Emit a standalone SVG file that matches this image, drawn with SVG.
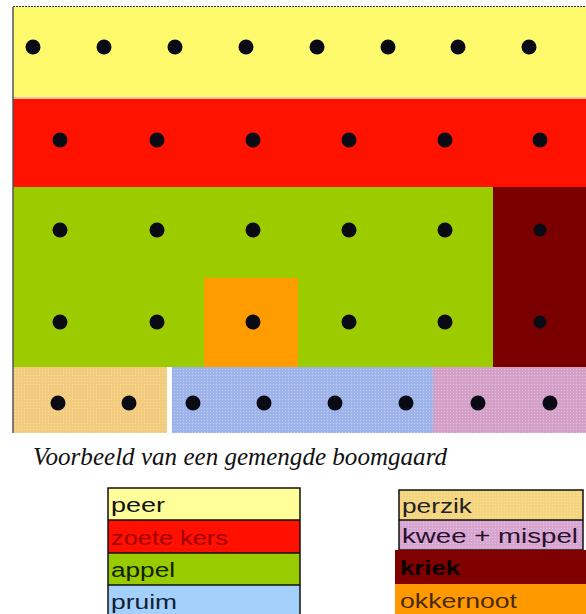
<svg xmlns="http://www.w3.org/2000/svg" width="586" height="614" viewBox="0 0 586 614">
<defs>
<style>
.dot{fill:#0a0a14}
.lt{font-family:"Liberation Sans",Arial,sans-serif;font-size:20px}
.cap{font-family:"Liberation Serif","Times New Roman",serif;font-style:italic;font-size:25px;fill:#111}
.lb{stroke:#111;stroke-width:1.5}
</style>
<pattern id="dotsW" width="3" height="3" patternUnits="userSpaceOnUse">
<rect x="0" y="0" width="1" height="1" fill="#ffffff" fill-opacity="0.35"/>
</pattern>
</defs>
<rect width="586" height="614" fill="#ffffff"/>

<g id="plot">
<rect id="peer" x="13" y="7" width="573" height="90" fill="#fdfb6c"/>
<rect x="13" y="97" width="573" height="2" fill="#f4c0a8"/>
<rect id="zoete-kers" x="13" y="99" width="573" height="88" fill="#ff1200"/>
<rect id="appel" x="13" y="187" width="480" height="180" fill="#9ccc00"/>
<rect id="kriek" x="493" y="187" width="93" height="180" fill="#7a0000"/>
<rect id="okkernoot" x="204" y="278" width="94" height="89" fill="#ff9c00"/>
<rect id="perzik" x="13" y="367" width="154" height="66" fill="#f2cb7c"/>
<rect x="13" y="367" width="154" height="66" fill="url(#dotsW)"/>
<rect id="pruim" x="172" y="367" width="261" height="66" fill="#9db3ea"/>
<rect x="172" y="367" width="261" height="66" fill="url(#dotsW)"/>
<rect id="kwee-mispel" x="433" y="367" width="153" height="66" fill="#d4a0c8"/>
<rect x="433" y="367" width="153" height="66" fill="url(#dotsW)"/>
<line x1="13" y1="6.5" x2="586" y2="6.5" stroke="#333" stroke-width="1.2" stroke-dasharray="2 1"/>
<line x1="13" y1="7" x2="13" y2="433" stroke="#555" stroke-width="1.5"/>
</g>

<g id="trees">
<g id="row1">
<circle class="dot" cx="33" cy="47" r="7.5"/><circle class="dot" cx="104" cy="47" r="7.5"/><circle class="dot" cx="175" cy="47" r="7.5"/><circle class="dot" cx="246" cy="47" r="7.5"/><circle class="dot" cx="317" cy="47" r="7.5"/><circle class="dot" cx="388" cy="47" r="7.5"/><circle class="dot" cx="458" cy="47" r="7.5"/><circle class="dot" cx="529" cy="47" r="7.5"/>
</g>
<g id="row2">
<circle class="dot" cx="60" cy="140" r="7.5"/><circle class="dot" cx="157" cy="140" r="7.5"/><circle class="dot" cx="253" cy="140" r="7.5"/><circle class="dot" cx="349" cy="140" r="7.5"/><circle class="dot" cx="445" cy="140" r="7.5"/><circle class="dot" cx="540" cy="140" r="7.5"/>
</g>
<g id="row3">
<circle class="dot" cx="60" cy="230" r="7.5"/><circle class="dot" cx="157" cy="230" r="7.5"/><circle class="dot" cx="253" cy="230" r="7.5"/><circle class="dot" cx="349" cy="230" r="7.5"/><circle class="dot" cx="445" cy="230" r="7.5"/><circle class="dot" cx="540" cy="230" r="6.5"/>
</g>
<g id="row4">
<circle class="dot" cx="60" cy="322" r="7.5"/><circle class="dot" cx="157" cy="322" r="7.5"/><circle class="dot" cx="253" cy="322" r="7.5"/><circle class="dot" cx="349" cy="322" r="7.5"/><circle class="dot" cx="445" cy="322" r="7.5"/><circle class="dot" cx="540" cy="322" r="6.5"/>
</g>
<g id="row5">
<circle class="dot" cx="58" cy="403" r="7.5"/><circle class="dot" cx="129" cy="403" r="7.5"/><circle class="dot" cx="193" cy="403" r="7.5"/><circle class="dot" cx="264" cy="403" r="7.5"/><circle class="dot" cx="335" cy="403" r="7.5"/><circle class="dot" cx="406" cy="403" r="7.5"/><circle class="dot" cx="478" cy="403" r="7.5"/><circle class="dot" cx="550" cy="403" r="7.5"/>
</g>
</g>

<text id="caption" class="cap" x="33" y="465" textLength="414" lengthAdjust="spacingAndGlyphs">Voorbeeld van een gemengde boomgaard</text>

<g id="legend-left">
<g id="leg-peer"><rect x="108" y="488" width="192" height="32" fill="#ffff99"/><text class="lt" x="111" y="512" fill="#111" textLength="54" lengthAdjust="spacingAndGlyphs">peer</text></g>
<g id="leg-zoete-kers"><rect x="108" y="520" width="192" height="33" fill="#ff1000"/><text class="lt" x="111" y="545" fill="#a00000" textLength="117" lengthAdjust="spacingAndGlyphs">zoete kers</text></g>
<g id="leg-appel"><rect x="108" y="553" width="192" height="32" fill="#99cc00"/><text class="lt" x="111" y="577" fill="#102000" textLength="64" lengthAdjust="spacingAndGlyphs">appel</text></g>
<g id="leg-pruim"><rect x="108" y="585" width="192" height="32" fill="#a4d0fc"/><text class="lt" x="111" y="609" fill="#102030" textLength="66" lengthAdjust="spacingAndGlyphs">pruim</text></g>
<rect x="108" y="488" width="192" height="130" fill="none" class="lb"/>
<line class="lb" x1="108" y1="520" x2="300" y2="520"/>
<line class="lb" x1="108" y1="553" x2="300" y2="553"/>
<line class="lb" x1="108" y1="585" x2="300" y2="585"/>
</g>

<g id="legend-right">
<g id="leg-perzik"><rect x="399" y="490" width="184" height="30" fill="#f5d47e"/><rect x="399" y="490" width="184" height="30" fill="url(#dotsW)"/><text class="lt" x="402" y="513" fill="#222" textLength="70" lengthAdjust="spacingAndGlyphs">perzik</text></g>
<g id="leg-kwee-mispel"><rect x="399" y="520" width="184" height="30" fill="#d8a4d0"/><rect x="399" y="520" width="184" height="30" fill="url(#dotsW)"/><text class="lt" x="402" y="543" fill="#2a1030" textLength="176" lengthAdjust="spacingAndGlyphs">kwee + mispel</text></g>
<rect x="399" y="490" width="184" height="60" fill="none" class="lb"/>
<line class="lb" x1="399" y1="520" x2="583" y2="520"/>
<g id="leg-kriek"><rect x="395" y="550" width="191" height="34" fill="#800000"/><text class="lt" x="400" y="575" fill="#0a0000" font-weight="bold" textLength="60" lengthAdjust="spacingAndGlyphs">kriek</text></g>
<g id="leg-okkernoot"><rect x="395" y="584" width="191" height="30" fill="#ff9900"/><text class="lt" x="400" y="608" fill="#4a2800" textLength="117" lengthAdjust="spacingAndGlyphs">okkernoot</text></g>
</g>
</svg>
